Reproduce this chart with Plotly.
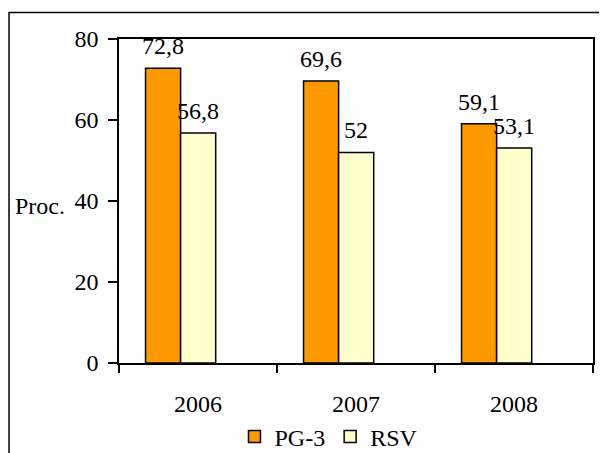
import plotly.graph_objects as go

years = ["2006", "2007", "2008"]
pg3 = [72.8, 69.6, 59.1]
rsv = [56.8, 52.0, 53.1]
pg3_labels = ["72,8", "69,6", "59,1"]
rsv_labels = ["56,8", "52", "53,1"]
y_ticks = [0, 20, 40, 60, 80]

FONT = "Liberation Serif"
FS = 24
BW = 0.222
OFFSETS = {"PG-3": -0.332, "RSV": -0.110}

fig = go.Figure()
fig.add_trace(go.Bar(
    x=years, y=pg3, name="PG-3",
    width=BW, offset=OFFSETS["PG-3"],
    marker=dict(color="#FF9900", line=dict(color="black", width=1.5)),
))
fig.add_trace(go.Bar(
    x=years, y=rsv, name="RSV",
    width=BW, offset=OFFSETS["RSV"],
    marker=dict(color="#FFFFCC", line=dict(color="black", width=1.5)),
))

annotations = []
for name, vals, labs in (("PG-3", pg3, pg3_labels), ("RSV", rsv, rsv_labels)):
    for i, (v, t) in enumerate(zip(vals, labs)):
        annotations.append(dict(
            text=t, x=i + OFFSETS[name] + BW / 2, y=v, xref="x", yref="y",
            xanchor="center", yanchor="bottom", yshift=7, showarrow=False,
            font=dict(family=FONT, size=FS, color="black")))

annotations.append(dict(text="Proc.", xref="paper", yref="y", x=0, y=40, xanchor="right",
                        yanchor="middle", xshift=-52, yshift=-5, showarrow=False,
                        font=dict(family=FONT, size=FS, color="black")))

fig.update_layout(
    width=599, height=445,
    margin=dict(l=111, r=14, t=31, b=90, autoexpand=False),
    paper_bgcolor="white", plot_bgcolor="white",
    barmode="overlay",
    font=dict(family=FONT, size=FS, color="black"),
    showlegend=True,
    legend=dict(orientation="h", x=0.443, xanchor="center", y=-0.228, yanchor="middle",
                font=dict(family=FONT, size=FS, color="black"), itemwidth=30,
                bgcolor="rgba(0,0,0,0)"),
    xaxis=dict(type="category", range=[-0.5, 2.5], showline=True, linecolor="black", linewidth=1.5,
               mirror=True, ticks="outside", tickson="boundaries", ticklen=8, tickcolor="black",
               tickwidth=1.5, showgrid=False, ticklabelstandoff=18,
               tickfont=dict(family=FONT, size=FS, color="black")),
    yaxis=dict(range=[0, 80], tickvals=y_ticks, showline=True, linecolor="black", linewidth=1.5,
               mirror=True, ticks="outside", ticklen=9, tickcolor="black", tickwidth=1.5,
               ticklabelstandoff=5,
               showgrid=False, zeroline=False, tickfont=dict(family=FONT, size=FS, color="black")),
    annotations=annotations,
    shapes=[dict(type="rect", xref="paper", yref="paper", x0=-0.232, x1=1.2, y0=-0.5, y1=1.082,
                 line=dict(color="black", width=1.5), fillcolor="rgba(0,0,0,0)", layer="below")],
)

fig.write_html("out.html")
